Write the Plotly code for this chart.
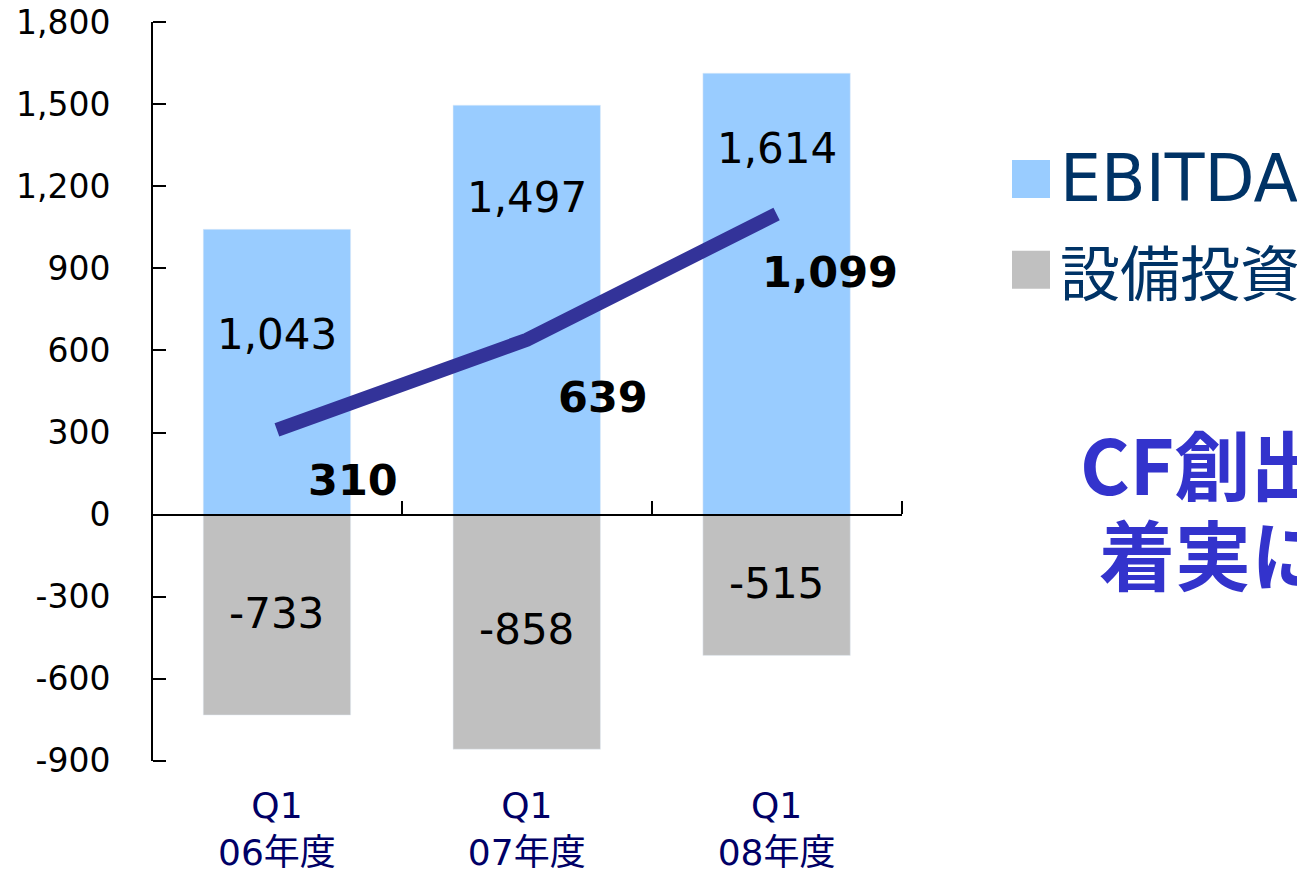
import plotly.graph_objects as go

# ---- data ----
categories = ["Q1<br>06年度", "Q1<br>07年度", "Q1<br>08年度"]
ebitda = [1043, 1497, 1614]
capex = [-733, -858, -515]
cf_line = [310, 639, 1099]
ebitda_labels = ["1,043", "1,497", "1,614"]
capex_labels = ["-733", "-858", "-515"]
cf_labels = ["310", "639", "1,099"]
ytick_vals = [-900, -600, -300, 0, 300, 600, 900, 1200, 1500, 1800]
ytick_text = ["-900", "-600", "-300", "0", "300", "600", "900", "1,200", "1,500", "1,800"]
legend_names = ["EBITDA", "設備投資"]
message_lines = ["CF創出力は", "着実に向上"]

# ---- layout constants (window pixels; page body has an 8px margin) ----
OFF = 8
W, H = 1305 - OFF, 870 - OFF
L, R, T, B = 152, 902, 22, 761.5          # plot area in window pixels
FONT = "DejaVu Sans, Noto Sans CJK JP, sans-serif"
CJK = "Noto Sans CJK JP, sans-serif"
C_EBITDA = "#99CCFF"
C_CAPEX = "#C0C0C0"
C_LINE = "#333399"

def px(x):
    return (x - L) / (R - L)

def py(y):
    return (B - y) / (B - T)

xs = list(range(len(categories)))
YR = [-901, 1801]
XR = [-0.5, 2.502]

fig = go.Figure()
fig.add_trace(go.Bar(x=xs, y=ebitda, marker_color=C_EBITDA, width=0.59,
                     name=legend_names[0], xaxis="x", yaxis="y"))
fig.add_trace(go.Bar(x=xs, y=capex, marker_color=C_CAPEX, width=0.59,
                     name=legend_names[1], xaxis="x", yaxis="y"))
fig.add_trace(go.Scatter(x=xs, y=cf_line, mode="lines",
                         line=dict(color=C_LINE, width=14),
                         xaxis="x2", yaxis="y2", showlegend=False))

annotations = []
# label placement (y in data units, x offset in px) — layout only
ebitda_lab_y = [657, 1161, 1340]
capex_lab_y = [-361, -420, -252]
cf_lab_y = [128, 431, 887]
cf_lab_dx = [76, 76, 53]
for i in xs:
    annotations.append(dict(x=i, y=ebitda_lab_y[i], xref="x", yref="y",
                            text=ebitda_labels[i], showarrow=False,
                            font=dict(family=FONT, size=42, color="#000000")))
    annotations.append(dict(x=i, y=capex_lab_y[i], xref="x", yref="y",
                            text=capex_labels[i], showarrow=False,
                            font=dict(family=FONT, size=42, color="#000000")))
    annotations.append(dict(x=i, y=cf_lab_y[i], xref="x", yref="y", xshift=cf_lab_dx[i],
                            text="<b>" + cf_labels[i] + "</b>", showarrow=False,
                            font=dict(family=FONT, size=43, color="#000000")))

# legend (manual)
legend_colors = [C_EBITDA, C_CAPEX]
legend_y = [179, 270]
legend_fonts = [FONT, CJK]
legend_sizes = [65, 60]
shapes = []
for name, col, ly, ff, fs in zip(legend_names, legend_colors, legend_y, legend_fonts, legend_sizes):
    shapes.append(dict(type="rect", xref="paper", yref="paper",
                       x0=px(1012), x1=px(1050), y0=py(ly + 19), y1=py(ly - 19),
                       fillcolor=col, line=dict(width=0)))
    annotations.append(dict(x=px(1058), y=py(ly), xref="paper", yref="paper",
                            xanchor="left", yanchor="middle", text=name, showarrow=False,
                            font=dict(family=ff, size=fs, color="#003366")))

# message text (clipped at right edge)
annotations.append(dict(x=px(1078), y=py(462), xref="paper", yref="paper",
                        xanchor="left", yanchor="middle", text="<b>" + message_lines[0] + "</b>",
                        showarrow=False, font=dict(family=CJK, size=76, color="#3333CC")))
annotations.append(dict(x=px(1097), y=py(552), xref="paper", yref="paper",
                        xanchor="left", yanchor="middle", text="<b>" + message_lines[1] + "</b>",
                        showarrow=False, font=dict(family=CJK, size=76, color="#3333CC")))

zero_pos = 900 / 2700

fig.update_layout(
    width=W, height=H,
    margin=dict(l=L - OFF, r=(W + OFF) - R, t=T - OFF, b=(H + OFF) - B, pad=0, autoexpand=False),
    paper_bgcolor="white", plot_bgcolor="white",
    barmode="relative", showlegend=False,
    font=dict(family=FONT, color="#000000"),
    # zero-line category axis with upward ticks at category boundaries
    xaxis=dict(range=XR, anchor="free", position=zero_pos, side="top",
               showline=True, linecolor="#000000", linewidth=2,
               tickmode="array", tickvals=[0.5, 1.5, 2.5], ticks="outside",
               ticklen=13, tickwidth=2, tickcolor="#000000", automargin=False,
               showticklabels=False, showgrid=False, zeroline=False),
    # bottom category labels
    xaxis2=dict(range=XR, overlaying="x", anchor="y", side="bottom",
                showline=False, ticks="", tickmode="array", tickvals=xs,
                ticktext=categories, showgrid=False, zeroline=False, automargin=False,
                ticklabeloverflow="allow",
                tickfont=dict(family=FONT, size=36, color="#000066"), ticklabelstandoff=20),
    # value axis: line + labels
    yaxis=dict(range=YR, anchor="free", position=0, side="left",
               showline=True, linecolor="#000000", linewidth=2,
               tickmode="array", tickvals=ytick_vals, ticktext=ytick_text,
               ticks="", showgrid=False, zeroline=False, automargin=False,
               ticklabeloverflow="allow",
               tickfont=dict(family=FONT, size=33, color="#000000"), ticklabelstandoff=34),
    # value axis tick marks pointing into the plot
    yaxis2=dict(range=YR, overlaying="y", anchor="free", position=0, side="right",
                showline=False, tickmode="array", tickvals=ytick_vals,
                ticks="outside", ticklen=13, tickwidth=2, tickcolor="#000000",
                showticklabels=False, showgrid=False, zeroline=False, automargin=False),
    annotations=annotations, shapes=shapes,
)

fig.write_html("out.html")
